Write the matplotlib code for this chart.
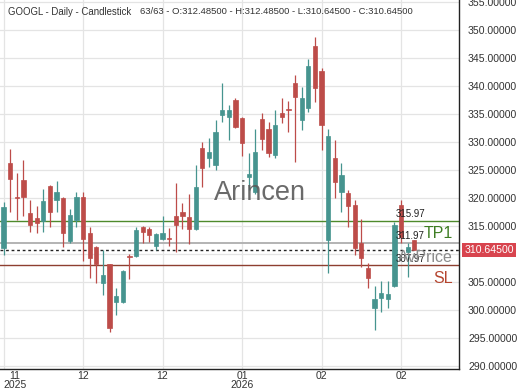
import matplotlib
matplotlib.use("Agg")
import matplotlib.pyplot as plt
from matplotlib.patches import Rectangle

plt.rcParams['font.family'] = ['Liberation Sans', 'DejaVu Sans']

opens = [311.1, 326.25, 320.2, 323.2, 317.4, 316.4, 315.9, 322.2, 319.6, 319.95,
         312.4, 316.1, 320.1, 313.7, 311.3, 304.9, 308.2, 301.5, 301.5, 309.7,
         309.6, 314.8, 314.4, 311.4, 312.7, 312.9, 316.7, 317.55, 316.55, 314.4,
         328.9, 327.1, 325.9, 334.8, 334.5, 337.5, 334.2, 323.8, 321.1, 334.05,
         332.3, 327.7, 335.2, 335.9, 340.5, 333.9, 336.0, 347.1, 342.7, 312.5,
         327.1, 321.1, 320.95, 318.75, 312.0, 307.45, 300.3, 302.1, 301.9, 304.2,
         318.75, 310.4, 312.485]
highs = [319.3, 328.75, 324.5, 326.8, 319.6, 318.5, 321.6, 322.4, 323.1, 320.2,
         318.0, 321.1, 321.1, 314.9, 311.5, 310.7, 308.3, 303.9, 307.1, 310.0,
         314.8, 315.0, 314.9, 313.7, 316.8, 314.6, 322.6, 319.05, 320.8, 325.9,
         330.05, 330.65, 333.9, 340.5, 336.6, 337.8, 334.4, 328.0, 332.4, 335.1,
         333.6, 335.7, 337.8, 337.4, 342.0, 339.8, 344.8, 348.8, 343.2, 332.4,
         330.4, 326.2, 321.4, 319.6, 316.2, 308.45, 304.2, 305.2, 305.2, 315.8,
         319.6, 311.9, 312.485]
lows = [309.8, 317.5, 316.1, 316.8, 314.0, 313.8, 314.0, 314.8, 317.55, 311.3,
        312.0, 314.8, 308.8, 305.7, 304.9, 302.7, 296.1, 299.1, 301.2, 305.5,
        309.5, 311.9, 312.2, 310.7, 312.5, 311.4, 310.4, 314.4, 311.8, 314.3,
        322.0, 325.6, 325.0, 333.6, 330.4, 332.5, 327.5, 321.4, 320.8, 328.6,
        327.4, 327.1, 333.45, 331.8, 326.5, 332.1, 335.4, 337.2, 328.6, 306.6,
        319.95, 317.55, 314.9, 309.8, 307.7, 303.9, 296.4, 299.7, 300.3, 304.05,
        311.9, 305.95, 310.645]
closes = [318.4, 323.4, 320.0, 320.2, 315.1, 315.5, 319.5, 317.55, 321.1, 313.7,
          317.0, 320.1, 312.6, 309.2, 308.3, 306.25, 296.7, 302.5, 307.0, 309.5,
          314.2, 314.0, 313.4, 313.6, 313.7, 312.7, 315.2, 316.7, 314.4, 321.9,
          325.3, 328.3, 331.7, 335.8, 335.7, 332.7, 329.9, 324.3, 328.3, 330.5,
          328.0, 333.0, 334.5, 335.8, 338.1, 337.8, 343.6, 339.6, 333.0, 331.1,
          322.9, 324.1, 318.6, 311.0, 309.2, 305.7, 301.9, 303.1, 302.9, 315.2,
          313.1, 311.3, 310.645]

x_tick_idx = [0, 12, 24, 36, 48, 60]
x_tick_labels = ["11\n2025", "12", "12", "01\n2026", "02", "02"]
y_ticks = [290, 295, 300, 305, 310, 315, 320, 325, 330, 335, 340, 345, 350, 355]

tp1 = 315.97
avg_price = 311.97
last_price = 310.645
sl = 307.97

title_left = "GOOGL - Daily - Candlestick"
title_right = "63/63 - O:312.48500 - H:312.48500 - L:310.64500 - C:310.64500"

UP = '#46948f'
DOWN = '#bd4c49'

YMIN, YMAX = 289.46, 355.36

fig = plt.figure(figsize=(5.2, 3.9), dpi=100)
ax = fig.add_axes([0, 21/390, 459/520, 369/390])
ax.set_xlim(-0.53, 68.75)
ax.set_ylim(YMIN, YMAX)

ax.set_xticks(x_tick_idx)
ax.set_xticklabels(x_tick_labels, linespacing=0.9)
ax.set_yticks(y_ticks)
# the 310 label sits under the last-price tag in the reference
ax.set_yticklabels(["" if abs(v - 310) < 1e-9 else f"{v:.5f}" for v in y_ticks])
ax.yaxis.tick_right()
ax.tick_params(axis='y', length=0, pad=6.5, labelsize=7.6, labelcolor='#333333')
ax.tick_params(axis='x', length=0, pad=1.5, labelsize=7.5, labelcolor='#333333')
labs = ax.get_xticklabels()
labs[0].set_horizontalalignment('left')
labs[0].set_multialignment('center')

ax.grid(True, color='#e4e4e4', linewidth=0.9)
ax.set_axisbelow(True)
for s in ['left', 'top']:
    ax.spines[s].set_visible(False)
for s in ['right', 'bottom']:
    ax.spines[s].set_color('#222222')
    ax.spines[s].set_linewidth(1.0)

w = 0.64
for i, (o, h, l, c) in enumerate(zip(opens, highs, lows, closes)):
    col = UP if c >= o else DOWN
    ax.vlines(i, l, h, color=col, linewidth=0.9, zorder=3)
    bot = min(o, c)
    ht = max(abs(c - o), 0.12)
    ax.add_patch(Rectangle((i - w/2, bot), w, ht, facecolor=col,
                           edgecolor=col, linewidth=0.5, zorder=4))

ax.text(38.7, 320.9, "Arincen", fontsize=19.5,
        color='#5a5a5a', alpha=0.9, ha='center', va='center', zorder=5)

ax.axhline(tp1, color='#4e8a2c', linewidth=1.0, zorder=2)
ax.axhline(avg_price, color='#b3b3b3', linewidth=1.4, zorder=2)
ax.axhline(last_price, color='#222222', linewidth=1.0, linestyle=(0, (2, 2)), zorder=2)
ax.axhline(sl, color='#8e3f30', linewidth=1.0, zorder=2)

ax.text(59.2, tp1 + 0.3, "315.97", fontsize=7, color='#222222', ha='left', va='bottom', zorder=6)
ax.text(59.2, avg_price + 0.3, "311.97", fontsize=7, color='#222222', ha='left', va='bottom', zorder=6)
ax.text(59.2, sl + 0.3, "307.97", fontsize=7, color='#222222', ha='left', va='bottom', zorder=6)

ax.text(67.8, 313.6, "TP1", fontsize=11.5, color='#3d7d22', ha='right', va='center', zorder=6)
ax.text(67.8, 309.45, "AvPrice", fontsize=11.5, color='#8c8c8c', ha='right', va='center', zorder=6)
ax.text(67.8, 305.6, "SL", fontsize=11.5, color='#b5452f', ha='right', va='center', zorder=6)

ax.text(1.012, (last_price - YMIN) / (YMAX - YMIN), "310.64500",
        transform=ax.transAxes, fontsize=7.6, color='white', ha='left', va='center',
        bbox=dict(boxstyle='square,pad=0.2', facecolor='#d8444e', edgecolor='none'),
        zorder=7, clip_on=False)

fig.text(8/520, 1 - 12/390, title_left, fontsize=6.9, color='#333333', ha='left', va='center')
fig.text(140/520, 1 - 12/390, title_right, fontsize=6.8, color='#333333', ha='left', va='center')

fig.savefig("out.png", dpi=100, facecolor='white')
